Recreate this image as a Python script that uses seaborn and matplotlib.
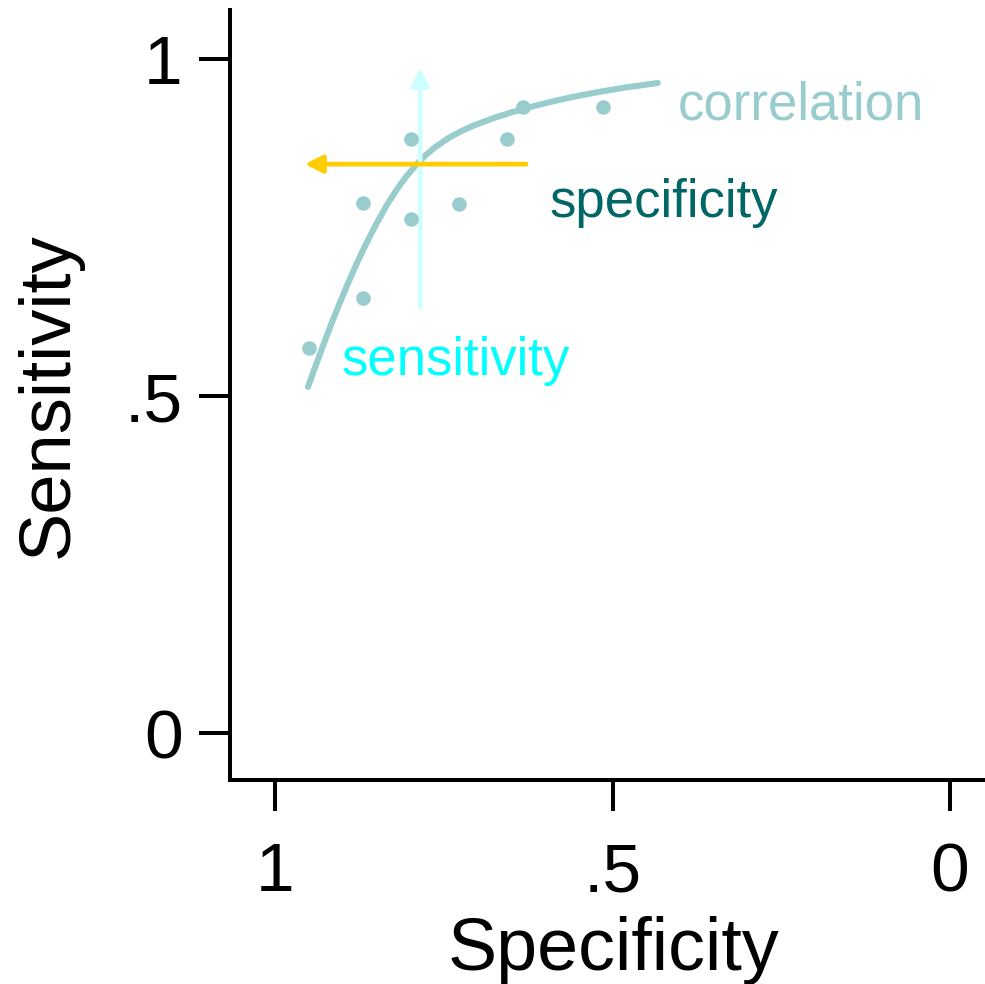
import matplotlib
matplotlib.use("Agg")
import matplotlib.pyplot as plt
import seaborn as sns
import pandas as pd

# --- data ---
pt_spec = [0.950, 0.870, 0.870, 0.799, 0.799, 0.727, 0.656, 0.633, 0.514]
pt_sens = [0.571, 0.645, 0.786, 0.881, 0.763, 0.785, 0.881, 0.929, 0.929]

curve_spec = [0.9511, 0.9394, 0.9284, 0.9172, 0.9053, 0.8929, 0.8799, 0.8659, 0.8508,
              0.8342, 0.8201, 0.8062, 0.7899, 0.7766, 0.7624, 0.7430, 0.7237, 0.7037,
              0.6757, 0.6477, 0.6157, 0.5861, 0.5594, 0.5209, 0.4809, 0.4329]
curve_sens = [0.5134, 0.5460, 0.5757, 0.6053, 0.6350, 0.6647, 0.6944, 0.7240, 0.7537,
              0.7834, 0.8056, 0.8249, 0.8442, 0.8576, 0.8694, 0.8828, 0.8932, 0.9021,
              0.9125, 0.9214, 0.9303, 0.9377, 0.9436, 0.9510, 0.9577, 0.9644]

spec_arrow_x = [0.628, 0.956]   # tail, head
spec_arrow_y = 0.844
sens_arrow_x = 0.785
sens_arrow_y = [0.632, 0.987]   # tail, head

x_ticks = [1, 0.5, 0]
x_ticklabels = ["1", ".5", "0"]
y_ticks = [0, 0.5, 1]
y_ticklabels = ["0", ".5", "1"]

labels = {"correlation": (0.404, 0.9095), "specificity": (0.593, 0.766), "sensitivity": (0.901, 0.531)}

# --- colours ---
c_corr = "#99cccc"
c_spec = "#006666"
c_sens = "#00ffff"
c_sens_arrow = "#ccffff"
c_yellow = "#ffcc00"

sns.set_style("ticks")
plt.rcParams["font.family"] = ["Liberation Sans", "DejaVu Sans"]

fig = plt.figure(figsize=(9.85, 9.84), dpi=100)
ax = fig.add_axes([230 / 985, 1 - 780 / 984, 1 - 230 / 985, (780 - 10) / 984])

pts = pd.DataFrame({"spec": pt_spec, "sens": pt_sens})
crv = pd.DataFrame({"spec": curve_spec, "sens": curve_sens})

sns.lineplot(data=crv, x="spec", y="sens", sort=False, color=c_corr, lw=4.4, ax=ax, zorder=2)
ax.annotate("", xy=(sens_arrow_x, sens_arrow_y[1]), xytext=(sens_arrow_x, sens_arrow_y[0]),
            arrowprops=dict(arrowstyle="-|>", color=c_sens_arrow, lw=3.4, mutation_scale=26,
                            shrinkA=0, shrinkB=0), zorder=3)
sns.scatterplot(data=pts, x="spec", y="sens", color=c_corr, s=110, linewidth=0, ax=ax, zorder=4)
ax.annotate("", xy=(spec_arrow_x[1], spec_arrow_y), xytext=(spec_arrow_x[0], spec_arrow_y),
            arrowprops=dict(arrowstyle="-|>", color=c_yellow, lw=3.4, mutation_scale=26,
                            shrinkA=0, shrinkB=0), zorder=5)

text_colors = {"correlation": c_corr, "specificity": c_spec, "sensitivity": c_sens}
for name, (tx, ty) in labels.items():
    ax.text(tx, ty, name, color=text_colors[name], fontsize=38, ha="left", va="baseline")

ax.set_xlim(1 + 45 / 675, 1 - (985 - 275) / 675)
ax.set_ylim(1 - (780 - 59) / 674, 1 + 49 / 674)

ax.set_xticks(x_ticks)
ax.set_xticklabels(x_ticklabels)
ax.set_yticks(y_ticks)
ax.set_yticklabels(y_ticklabels)
ax.tick_params(axis="both", which="major", direction="out", length=22, width=2.9,
               color="black", labelsize=50, labelcolor="black", bottom=True, left=True)
ax.tick_params(axis="x", pad=22)
ax.tick_params(axis="y", pad=12)

for side in ["top", "right"]:
    ax.spines[side].set_visible(False)
for side in ["left", "bottom"]:
    ax.spines[side].set_color("black")
    ax.spines[side].set_linewidth(2.9)
    ax.spines[side].set_capstyle("projecting")

ax.set_xlabel("Specificity", fontsize=53, labelpad=8, color="black")
ax.set_ylabel("Sensitivity", fontsize=52, labelpad=30, color="black")
ax.xaxis.label.set_x(0.5086)
ax.patch.set_alpha(0)

fig.savefig("out.png", dpi=100, facecolor="white")
